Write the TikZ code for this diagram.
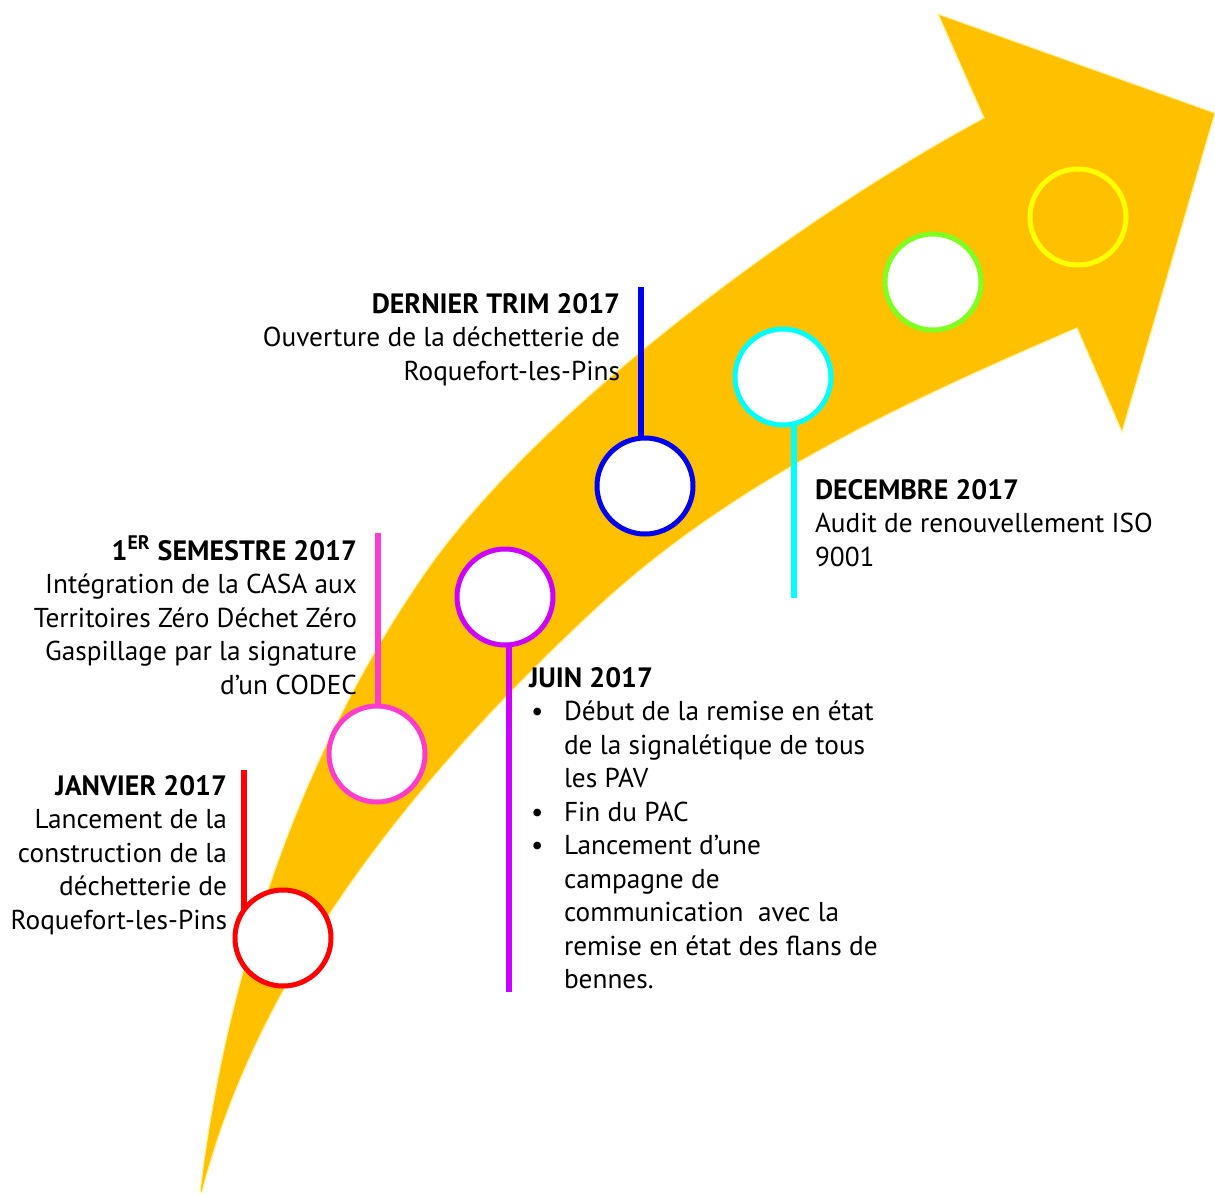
\documentclass[tikz,border=0pt]{standalone}
\usepackage{fontspec}
\setmainfont{PT Sans}
\definecolor{arrowfill}{HTML}{FFC000}
\definecolor{arrowedge}{HTML}{FFF09A}
\definecolor{cred}{HTML}{FF0000}
\definecolor{cpink}{HTML}{FF3DCC}
\definecolor{cpurple}{HTML}{CC00FF}
\definecolor{cblue}{HTML}{0000F0}
\definecolor{ccyan}{HTML}{00FFFF}
\definecolor{cgreen}{HTML}{80FF20}
\definecolor{cyellow}{HTML}{FFFF00}
\begin{document}
\begin{tikzpicture}[x=0.5pt,y=-0.5pt,
  txt/.style={inner sep=0pt, outer sep=0pt, font=\fontsize{13.65}{16.75}\selectfont},
  ttl/.style={txt, font=\fontsize{14}{16.75}\selectfont\bfseries},
  rt/.style={anchor=base east},
  lt/.style={anchor=base west},
  ring/.style={circle, minimum size=48pt, inner sep=0pt, line width=2.5pt, draw=#1, fill=white},
  stem/.style={line width=3pt, draw=#1}
]
\useasboundingbox (0,0) rectangle (1215,1194);
% big curved arrow
\filldraw[fill=arrowfill, draw=arrowedge, line width=0.6pt, line join=miter]
  (200,1192) .. controls (226,974) and (301,750) .. (427,570)
  .. controls (542,406) and (808,212) .. (984,118)
  -- (938,14) -- (1215,113) -- (1122,432) -- (1077,328)
  .. controls (907,401) and (736,480) .. (600,605)
  .. controls (426,766) and (261,963) .. (202,1192)
  -- cycle;

% stem coordinates
\coordinate (s1) at (244,770);
\coordinate (s2) at (378,533);
\coordinate (s3) at (509,992);
\coordinate (s4) at (641,287);
\coordinate (s5) at (794,598);

% circle positions
\coordinate (p1) at (283,938);
\coordinate (p2) at (377,754);
\coordinate (p3) at (505,597);
\coordinate (p4) at (645,486);
\coordinate (p5) at (783,377);

% stems (drawn first, hidden inside circles)
\draw[stem=cred] (s1) -- (s1 |- p1);
\draw[stem=cpink] (s2) -- (s2 |- p2);
\draw[stem=cpurple] (s3) -- (s3 |- p3);
\draw[stem=cblue] (s4) -- (s4 |- p4);
\draw[stem=ccyan] (s5) -- (s5 |- p5);

% circles
\node[ring=cred] (c1) at (p1) {};
\node[ring=cpink] (c2) at (p2) {};
\node[ring=cpurple] (c3) at (p3) {};
\node[ring=cblue] (c4) at (p4) {};
\node[ring=ccyan] (c5) at (p5) {};
\node[ring=cgreen] (c6) at (933,282) {};
\node[ring=cyellow, fill=none] (c7) at (1078,217) {};

% JANVIER 2017
\node[ttl,rt] (j0) at (227,795) {JANVIER 2017};
\node[txt,rt] (j1) at (227,828.5) {Lancement de la};
\node[txt,rt] (j2) at (227,862) {construction de la};
\node[txt,rt] (j3) at (227,895.5) {déchetterie de};
\node[txt,rt] (j4) at (227,929) {Roquefort-les-Pins};

% 1ER SEMESTRE 2017
\node[ttl,rt] (e0) at (357,560) {1\textsuperscript{ER} SEMESTRE 2017};
\node[txt,rt] (e1) at (357,593.5) {Intégration de la CASA aux};
\node[txt,rt] (e2) at (357,627) {Territoires Zéro Déchet Zéro};
\node[txt,rt] (e3) at (357,660.5) {Gaspillage par la signature};
\node[txt,rt] (e4) at (357,694) {d’un CODEC};

% DERNIER TRIM 2017
\node[ttl,rt] (d0) at (620,313) {DERNIER TRIM 2017};
\node[txt,rt] (d1) at (620,346.5) {Ouverture de la déchetterie de};
\node[txt,rt] (d2) at (620,380) {Roquefort-les-Pins};

% DECEMBRE 2017
\node[ttl,lt] (m0) at (815,499) {DECEMBRE 2017};
\node[txt,lt] (m1) at (815,532.5) {Audit de renouvellement ISO};
\node[txt,lt] (m2) at (815,566) {9001};

% JUIN 2017
\node[ttl,lt] (u0) at (529,687) {JUIN 2017};
\node[txt,lt] (b1) at (531,720.5) {•};
\node[txt,lt] (u1) at (564,720.5) {Début de la remise en état};
\node[txt,lt] (u2) at (564,754) {de la signalétique de tous};
\node[txt,lt] (u3) at (564,787.5) {les PAV};
\node[txt,lt] (b2) at (531,821) {•};
\node[txt,lt] (u4) at (564,821) {Fin du PAC};
\node[txt,lt] (b3) at (531,854.5) {•};
\node[txt,lt] (u5) at (564,854.5) {Lancement d’une};
\node[txt,lt] (u6) at (564,888) {campagne de};
\node[txt,lt] (u7) at (564,921.5) {communication~ avec la};
\node[txt,lt] (u8) at (564,955) {remise en état des flans de};
\node[txt,lt] (u9) at (564,988.5) {bennes.};
\end{tikzpicture}
\end{document}
